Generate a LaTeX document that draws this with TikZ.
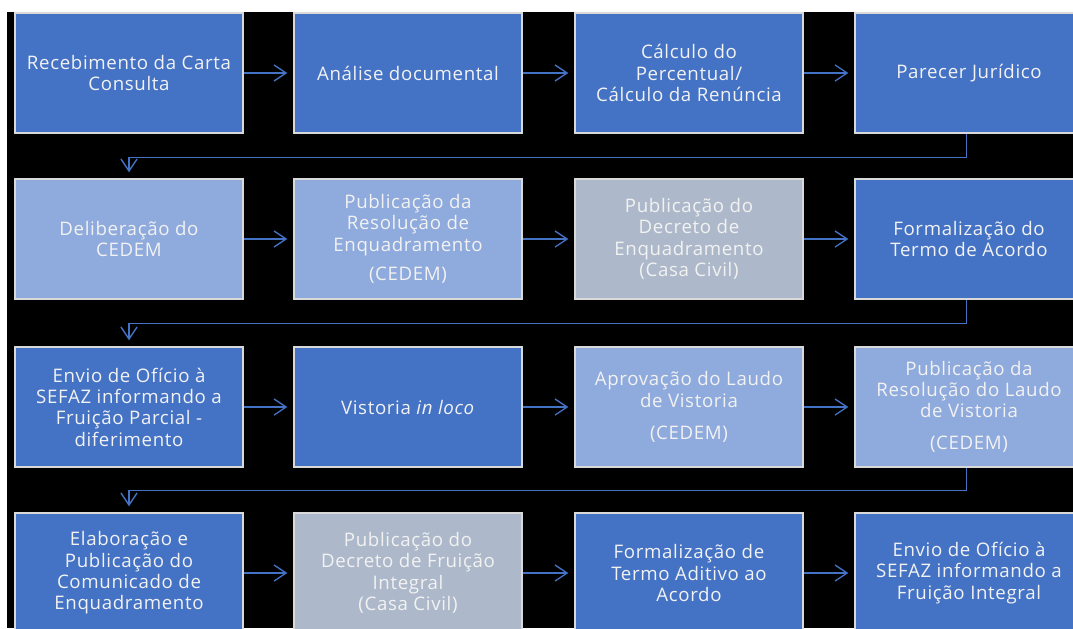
\documentclass[tikz,border=0pt]{standalone}
\usepackage{fontspec}
\setmainfont{Open Sans}[LetterSpace=3.5]
\usetikzlibrary{arrows.meta}
\definecolor{cdark}{HTML}{4472C4}
\definecolor{clight}{HTML}{8FAADC}
\definecolor{cgrey}{HTML}{ADB9CA}
\definecolor{cborder}{HTML}{D9D9D9}
\definecolor{ctext}{HTML}{F2F2F2}
\tikzset{
  box/.style={draw=cborder, line width=1.1pt, minimum width=171pt, minimum height=90pt,
    align=center, text=ctext, font=\fontsize{14}{16}\selectfont, inner sep=2pt},
  dk/.style={box, fill=cdark},
  lt/.style={box, fill=clight},
  gy/.style={box, fill=cgrey},
  conn/.style={draw=cdark, line width=1pt, -{Straight Barb[length=9pt,width=12pt,line width=1pt]}, shorten >=4.5pt},
}
\begin{document}
\begin{tikzpicture}[x=0.75pt,y=-0.75pt]
\useasboundingbox (0,0) rectangle (1073,628);
\fill[white] (0,0) rectangle (1073,628);
\clip (0,0) rectangle (1073,628);
\fill[black] (7,12) rectangle (1073,628);
% row 1
\node[dk] (a1) at (129,73) {Recebimento da Carta\\Consulta};
\node[dk] (a2) at (408,73) {Análise documental};
\node[dk] (a3) at (689,73) {Cálculo do\\Percentual/\\Cálculo da Renúncia};
\node[dk] (a4) at (969,73) {Parecer Jurídico};
% row 2
\node[lt] (b1) at (129,239) {Deliberação do\\CEDEM};
\node[lt] (b2) at (408,239) {Publicação da\\Resolução de\\Enquadramento\\[6pt](CEDEM)};
\node[gy] (b3) at (689,239) {Publicação do\\Decreto de\\Enquadramento\\(Casa Civil)};
\node[dk] (b4) at (969,239) {Formalização do\\Termo de Acordo};
% row 3
\node[dk] (c1) at (129,407) {Envio de Ofício à\\SEFAZ informando a\\Fruição Parcial -\\diferimento};
\node[dk] (c2) at (408,407) {Vistoria \textit{in loco}};
\node[lt] (c3) at (689,407) {Aprovação do Laudo\\de Vistoria\\[8pt](CEDEM)};
\node[lt] (c4) at (969,407) {Publicação da\\Resolução do Laudo\\de Vistoria\\[8pt](CEDEM)};
% row 4
\node[dk] (d1) at (129,573) {Elaboração e\\Publicação do\\Comunicado de\\Enquadramento};
\node[gy] (d2) at (408,573) {Publicação do\\Decreto de Fruição\\Integral\\(Casa Civil)};
\node[dk] (d3) at (689,573) {Formalização de\\Termo Aditivo ao\\Acordo};
\node[dk] (d4) at (969,573) {Envio de Ofício à\\SEFAZ informando a\\Fruição Integral};
% horizontal arrows
\foreach \r in {a,b,c,d}{
  \draw[conn] (\r1.east) -- (\r2.west);
  \draw[conn] (\r2.east) -- (\r3.west);
  \draw[conn] (\r3.east) -- (\r4.west);
}
% elbow arrows
\draw[conn] ([xshift=-2]a4.south) -- ++(0,24) -| (b1.north);
\draw[conn] ([xshift=-2]b4.south) -- ++(0,24) -| (c1.north);
\draw[conn] ([xshift=-2]c4.south) -- ++(0,23) -| (d1.north);
\end{tikzpicture}
\end{document}
